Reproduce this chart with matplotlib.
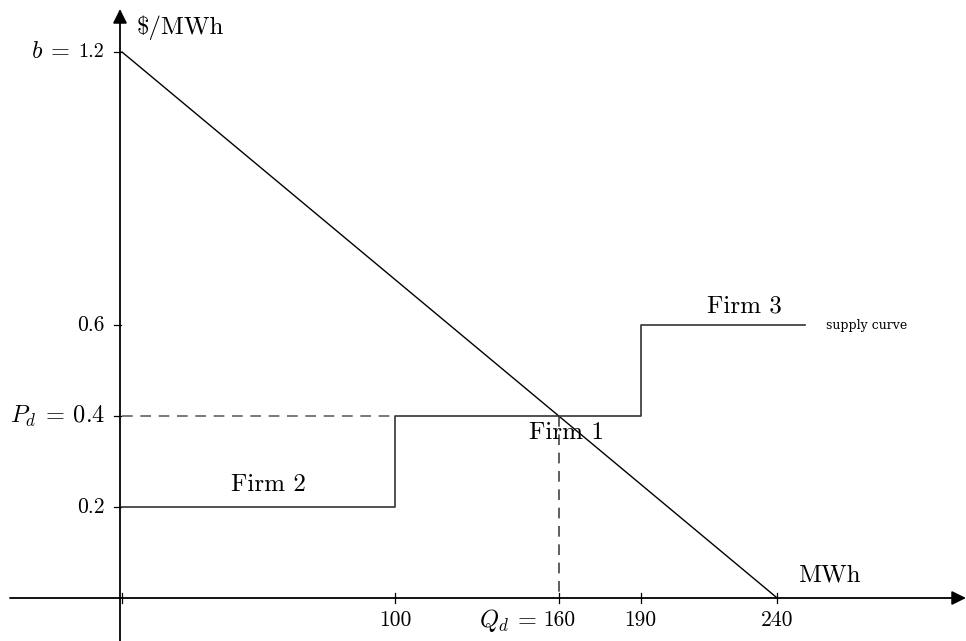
#!/usr/bin/env python3

import matplotlib
matplotlib.use("Agg")
import matplotlib.pyplot as plt

# Demand line end points (quantity, price)
demand_q = [0, 240]
demand_p = [1.2, 0]

# Supply curve as step points
supply_q = [0, 100, 100, 190, 190, 250]
supply_p = [0.2, 0.2, 0.4, 0.4, 0.6, 0.6]

# Equilibrium
q_eq = 160
p_eq = 0.4

# Tick positions and labels
x_ticks = [0, 100, 160, 190, 240]
x_labels = ["100", "160", "190", "240"]
x_label_pos = [100, 160, 190, 240]
y_ticks = [0.2, 0.4, 0.6, 1.2]
y_labels = ["0.2", "0.6"]
y_label_pos = [0.2, 0.6]

firm_names = ["Firm 1", "Firm 2", "Firm 3"]
firm_q = [163, 53.5, 228]
firm_p = [0.362, 0.249, 0.641]

plt.rcParams["font.family"] = "serif"
plt.rcParams["font.serif"] = ["cmr10", "DejaVu Serif"]
plt.rcParams["mathtext.fontset"] = "cm"
plt.rcParams["axes.unicode_minus"] = False

# pixel -> data helpers (figure is 966x641 px, axes fill it)
X0, SX = 122, 2.73
Y0, SY = 598, 455.0


def px(p):
    return (p - X0) / SX


def py(p):
    return (Y0 - p) / SY


fig = plt.figure(figsize=(9.66, 6.41), dpi=100)
ax = fig.add_axes([0, 0, 1, 1])
ax.set_xlim(px(0), px(966))
ax.set_ylim(py(641), py(0))
ax.axis("off")

# Axes with arrow heads
arrow = dict(arrowstyle="-|>,head_length=0.85,head_width=0.42",
             mutation_scale=10, lw=1.3, color="black", shrinkA=0, shrinkB=0)
ax.annotate("", xy=(px(966), 0), xytext=(px(10), 0), arrowprops=arrow)
ax.annotate("", xy=(px(120), py(9)), xytext=(px(120), py(641)),
            arrowprops=arrow)

# Ticks
tx = 5 / SY
for q in x_ticks:
    ax.plot([q, q], [-tx, tx], color="black", lw=0.9)
for p in y_ticks:
    ax.plot([px(114), px(121)], [p, p], color="black", lw=0.9)

# Demand and supply
ax.plot(demand_q, demand_p, color="black", lw=1.0)
ax.plot(supply_q, supply_p, color="#333333", lw=1.2)

# Equilibrium guides
ax.plot([0, q_eq], [p_eq, p_eq], color="#555555", lw=1.1,
        linestyle=(0, (7, 5)))
ax.plot([q_eq, q_eq], [p_eq, 0], color="#333333", lw=1.1,
        linestyle=(0, (7, 5)))

# Tick labels
for q, lab in zip(x_label_pos, x_labels):
    ax.text(q, py(620), lab, fontsize=15.5, ha="center", va="center")
ax.text(px(537), py(620), r"$Q_d\:=$", fontsize=17.5, ha="right",
        va="center")

for p, lab in zip(y_label_pos, y_labels):
    ax.text(px(105), p, lab, fontsize=15.5, ha="right", va="center")
ax.text(px(105), p_eq, r"$P_d\:=\:0.4$", fontsize=17.5, ha="right",
        va="center")
ax.text(px(104), 1.2, "1.2", fontsize=14.5, ha="right", va="center")
ax.text(px(70), 1.2, r"$b\:=$", fontsize=17.5, ha="right", va="center")

# Axis titles
ax.text(px(137), py(28), r"\$/MWh", fontsize=18, ha="left", va="center")
ax.text(px(798), py(575), "MWh", fontsize=18, ha="left", va="center")

# Firm labels
for name, q, p in zip(firm_names, firm_q, firm_p):
    ax.text(q, p, name, fontsize=18, ha="center", va="center")

ax.text(px(826), 0.6, "supply curve", fontsize=9, ha="left", va="center",
        family="DejaVu Serif")

fig.savefig("out.png", dpi=100)
